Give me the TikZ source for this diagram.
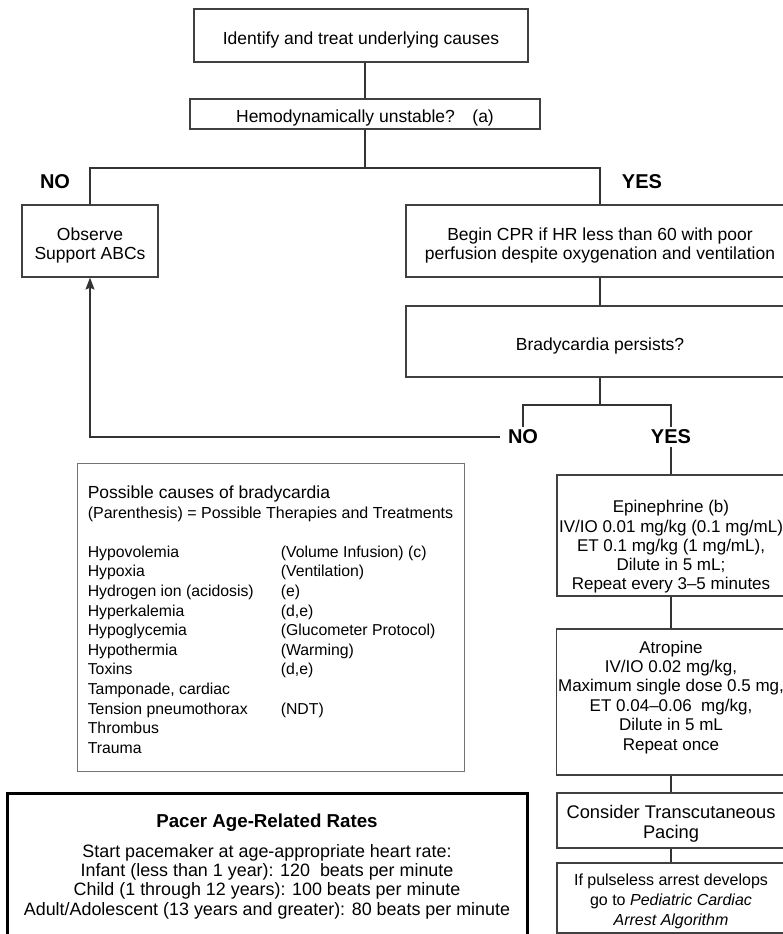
\documentclass[tikz,border=0pt]{standalone}
\usepackage{fontspec}
\setmainfont{Liberation Sans}
\usetikzlibrary{arrows.meta}

\newcommand{\txt}{\fontsize{17.5}{19.6}\selectfont}
\newcommand{\lst}{\fontsize{15.8}{19.6}\selectfont}
\newcommand{\cause}[2]{\makebox[193pt][l]{#1}#2}
\newcommand{\lift}[1]{\rule{0pt}{#1}}
\newcommand{\sink}[1]{\rule[-#1]{0pt}{1pt}}
\tikzset{
  box/.style={draw=black!75,line width=1.2pt,fill=white,align=center,inner sep=2pt},
  yesno/.style={font=\fontsize{20}{22}\selectfont\bfseries,inner sep=3pt},
  conn/.style={draw=black!80,line width=1.3pt},
}

\begin{document}
\begin{tikzpicture}[x=1pt,y=-1pt,font=\txt]
\useasboundingbox (0,0) rectangle (783,934);

\node[box,minimum width=334pt,minimum height=53pt] (top) at (361,35.5) {\lift{22pt}Identify and treat underlying causes};
\node[box,minimum width=350pt,minimum height=30pt] (hemo) at (365,114) {\lift{21pt}Hemodynamically unstable?\quad(a)};
\node[box,minimum width=136pt,minimum height=72pt] (obs) at (90,241) {\lift{22pt}Observe\\Support ABCs};
\node[box,minimum width=388pt,minimum height=72pt] (cpr) at (600,241) {\lift{22pt}Begin CPR if HR less than 60 with poor\\perfusion despite oxygenation and ventilation};
\node[box,minimum width=388pt,minimum height=71pt] (brady) at (600,341.5) {\lift{21pt}Bradycardia persists?};

\node[yesno] (no1) at (55,182) {NO};
\node[yesno] (yes1) at (642,182) {YES};
\node[yesno] (no2) at (523,437) {NO};
\node[yesno] (yes2) at (671,437) {YES};

\node[box,minimum width=228pt,minimum height=121pt,font=\fontsize{17}{19.2}\selectfont] (epi) at (671,535.5) {\lift{35pt}Epinephrine (b)\\IV/IO 0.01 mg/kg (0.1 mg/mL)\\ET 0.1 mg/kg (1 mg/mL),\\Dilute in 5 mL;\\Repeat every 3--5 minutes};
\node[box,minimum width=228pt,minimum height=146pt,font=\fontsize{17}{19.4}\selectfont] (atro) at (671,702) {Atropine\\IV/IO 0.02 mg/kg,\\Maximum single dose 0.5 mg,\\ET 0.04--0.06~ mg/kg,\\Dilute in 5 mL\\Repeat once\sink{13pt}};
\node[box,minimum width=228pt,minimum height=55pt,font=\fontsize{18.3}{19.5}\selectfont] (pace) at (671,820.5) {\lift{20pt}Consider Transcutaneous\\Pacing};
\node[box,minimum width=228pt,minimum height=70pt,font=\fontsize{16}{20}\selectfont] (arrest) at (671,898) {\lift{17.6pt}If pulseless arrest develops\\go to \textit{Pediatric Cardiac}\\\textit{Arrest Algorithm}};

% causes box
\node[draw=black!55,line width=1pt,align=left,minimum width=387pt,minimum height=308pt,inner sep=2pt] (causes) at (270.5,617)
{\lift{18pt}Possible causes of bradycardia\\
{\fontsize{16}{19.6}\selectfont (Parenthesis) = Possible Therapies and Treatments}\\[19.6pt]
{\lst\cause{Hypovolemia}{(Volume Infusion) (c)}}\\
{\lst\cause{Hypoxia}{(Ventilation)}}\\
{\lst\cause{Hydrogen ion (acidosis)}{(e)}}\\
{\lst\cause{Hyperkalemia}{(d,e)}}\\
{\lst\cause{Hypoglycemia}{(Glucometer Protocol)}}\\
{\lst\cause{Hypothermia}{(Warming)}}\\
{\lst\cause{Toxins}{(d,e)}}\\
{\lst Tamponade, cardiac}\\
{\lst\cause{Tension pneumothorax}{(NDT)}}\\
{\lst Thrombus}\\
{\lst Trauma}};

% pacer box
\node[draw=black,line width=3pt,align=center,minimum width=520pt,minimum height=147pt,font=\fontsize{17.9}{19.4}\selectfont] (pacer) at (267,866.5)
{{\fontsize{18.7}{20}\selectfont\bfseries Pacer Age-Related Rates}\\[10pt]
Start pacemaker at age-appropriate heart rate:\\
Infant (less than 1 year): 120~ beats per minute\\
Child (1 through 12 years): 100 beats per minute\\
Adult/Adolescent (13 years and greater): 80 beats per minute};

% connectors
\coordinate (s1) at (365,168);
\coordinate (s2) at (600,405);
\draw[conn] (hemo.north |- top.south) -- (hemo.north);
\draw[conn] (hemo) -- (s1);
\draw[conn] (obs.north) -- (obs.north |- s1) -- (cpr.north |- s1) -- (cpr.north);
\draw[conn] (cpr) -- (brady);
\draw[conn] (brady) -- (s2);
\draw[conn] (no2.north) -- (no2.north |- s2) -- (yes2.north |- s2) -- (yes2.north);
\draw[conn,shorten <=5pt,-{Stealth[length=12pt,width=9pt,inset=2pt]}] (no2.west) -| (obs.south);
\draw[conn] (yes2) -- (epi);
\draw[conn] (epi) -- (atro);
\draw[conn] (atro) -- (pace);
\draw[conn] (pace) -- (arrest);
\end{tikzpicture}
\end{document}
